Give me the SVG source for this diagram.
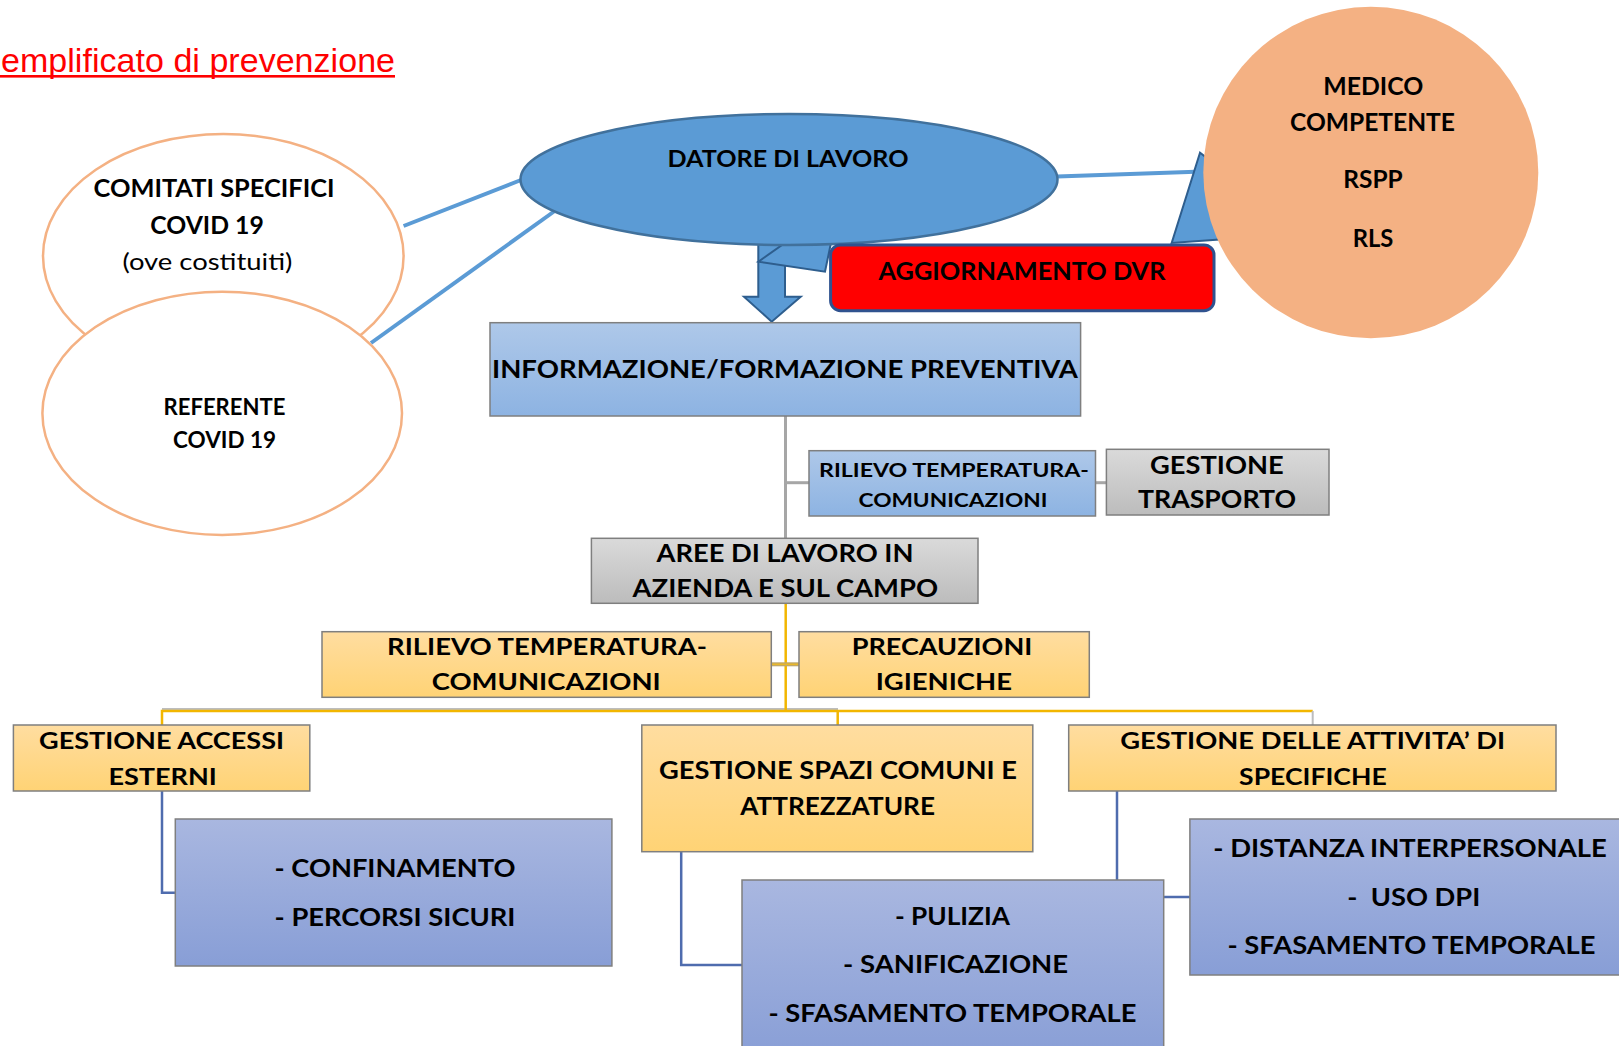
<svg xmlns="http://www.w3.org/2000/svg" width="1619" height="1046" viewBox="0 0 1619 1046">
<defs>
<linearGradient id="gBlueL" x1="0" y1="0" x2="0" y2="1"><stop offset="0" stop-color="#AEC8E9"/><stop offset="1" stop-color="#8DB3E2"/></linearGradient>
<linearGradient id="gGray" x1="0" y1="0" x2="0" y2="1"><stop offset="0" stop-color="#DADADA"/><stop offset="1" stop-color="#BCBCBC"/></linearGradient>
<linearGradient id="gYel" x1="0" y1="0" x2="0" y2="1"><stop offset="0" stop-color="#FFDDA0"/><stop offset="1" stop-color="#FFD375"/></linearGradient>
<linearGradient id="gPer" x1="0" y1="0" x2="0" y2="1"><stop offset="0" stop-color="#A9B7E0"/><stop offset="1" stop-color="#889ED6"/></linearGradient>
</defs>
<style>
text{font-family:"Lato","Carlito","Liberation Sans",sans-serif;font-weight:700;fill:#000;text-anchor:middle}
.reg{font-weight:400}
.box{stroke:#7F7F7F;stroke-width:1.5}
.bl{fill:url(#gBlueL)}
.gr{fill:url(#gGray)}
.ye{fill:url(#gYel)}
.pe{fill:url(#gPer)}
.cb{fill:none;stroke:#5B9BD5;stroke-width:4}
.cg{fill:none;stroke:#A6A6A6;stroke-width:3}
.cy{fill:none;stroke:#F2B600;stroke-width:2.5}
.cs{fill:none;stroke:#BDBDBD;stroke-width:2}
.cp{fill:none;stroke:#4F6CAE;stroke-width:2.5}
.ell{fill:#fff;stroke:#F4B183;stroke-width:2.5}
.dk{fill:#5B9BD5;stroke:#2E5E8E;stroke-width:2}
</style>

<g id="title">
<text x="1" y="72" textLength="394" style="font-family:'Liberation Sans',Arial,sans-serif;font-weight:400;font-size:34px;fill:#FF0000;text-anchor:start">emplificato di prevenzione</text>
<rect x="0" y="75" width="395" height="2.6" fill="#FF0000"/>
</g>

<g id="connectors">
<line class="cb" x1="403.6" y1="226" x2="521" y2="180"/>
<line class="cb" x1="371" y1="343" x2="554" y2="211.5"/>
<line class="cb" x1="1057" y1="176.5" x2="1203" y2="171.5"/>
<polyline class="cg" points="785.5,416 785.5,538.3"/>
<polyline class="cg" points="785.5,482.7 809,482.7"/>
<polyline class="cg" points="1095.5,482.7 1106.4,482.7"/>
<polyline class="cs" points="162,709 838,709"/>
<polyline class="cy" points="785.7,603.3 785.7,711"/>
<polyline class="cy" points="162,725 162,711 1312.7,711"/>
<polyline class="cy" points="837.7,711 837.7,725"/>
<polyline class="cs" points="1312.7,711 1312.7,725"/>
<line x1="771" y1="664.3" x2="799" y2="664.3" stroke="#BFA76A" stroke-width="4"/>
<line x1="771" y1="664.3" x2="799" y2="664.3" stroke="#E9B82A" stroke-width="1.5"/>
<polyline class="cp" points="162,791 162,892.7 175,892.7"/>
<polyline class="cp" points="681.2,851.7 681.2,965 742,965"/>
<polyline class="cp" points="1117,791 1117,897 1190,897"/>
</g>

<g id="comitati">
<ellipse class="ell" cx="223.3" cy="256" rx="180.3" ry="122"/>
<text x="214" y="197.3" font-size="24" textLength="241" lengthAdjust="spacingAndGlyphs">COMITATI SPECIFICI</text>
<text x="207" y="234" font-size="24" textLength="113.5" lengthAdjust="spacingAndGlyphs">COVID 19</text>
<text class="reg" x="207.4" y="270" font-size="24" textLength="170" lengthAdjust="spacingAndGlyphs">(ove costituiti)</text>
</g>

<g id="referente">
<ellipse class="ell" cx="222.2" cy="413.3" rx="179.8" ry="121.6"/>
<text x="224.5" y="415" font-size="22" textLength="122" lengthAdjust="spacingAndGlyphs">REFERENTE</text>
<text x="224.5" y="448.3" font-size="22" textLength="103" lengthAdjust="spacingAndGlyphs">COVID 19</text>
</g>

<g id="arrow">
<polygon class="dk" points="758.3,238 785,238 785,296.7 800.7,296.7 771.7,321.7 744,296.7 758.3,296.7"/>
<polygon class="dk" points="758.3,261.7 792,238 832,238 825,271.7"/>
</g>

<g id="wedge">
<polygon class="dk" points="1200,152.7 1171.7,243 1240,238 1216,165"/>
</g>

<g id="datore">
<ellipse class="dk" cx="789" cy="179.5" rx="268.5" ry="65.5" style="stroke:#41719C;stroke-width:2.5"/>
<text x="788" y="166.7" font-size="23.3" textLength="241" lengthAdjust="spacingAndGlyphs">DATORE DI LAVORO</text>
</g>

<g id="medico">
<ellipse cx="1370.8" cy="172.5" rx="167.5" ry="165.8" fill="#F4B183"/>
<text x="1373.3" y="95" font-size="25.5" textLength="100" lengthAdjust="spacingAndGlyphs">MEDICO</text>
<text x="1372.5" y="130.7" font-size="25.5" textLength="165" lengthAdjust="spacingAndGlyphs">COMPETENTE</text>
<text x="1373" y="188.3" font-size="25.5" textLength="59.4" lengthAdjust="spacingAndGlyphs">RSPP</text>
<text x="1373" y="247.3" font-size="25.5" textLength="40.6" lengthAdjust="spacingAndGlyphs">RLS</text>
</g>

<g id="dvr">
<rect x="830.6" y="245" width="383.4" height="65.7" rx="10" fill="#FF0000" stroke="#2F528F" stroke-width="3"/>
<text x="1022" y="280" font-size="25.5" textLength="287" lengthAdjust="spacingAndGlyphs">AGGIORNAMENTO DVR</text>
</g>

<g id="informazione">
<rect class="box bl" x="490" y="322.7" width="590.6" height="93.3"/>
<text x="785" y="378.3" font-size="25.5" textLength="586" lengthAdjust="spacingAndGlyphs">INFORMAZIONE/FORMAZIONE PREVENTIVA</text>
</g>

<g id="rilievo1">
<rect class="box bl" x="809" y="450.7" width="286.5" height="65.3"/>
<text x="954" y="477.3" font-size="19.5" textLength="270" lengthAdjust="spacingAndGlyphs">RILIEVO TEMPERATURA-</text>
<text x="953" y="506.7" font-size="19.5" textLength="189" lengthAdjust="spacingAndGlyphs">COMUNICAZIONI</text>
</g>

<g id="trasporto">
<rect class="box gr" x="1106.4" y="449.3" width="222.6" height="65.7"/>
<text x="1216.8" y="474" font-size="24" textLength="133.6" lengthAdjust="spacingAndGlyphs">GESTIONE</text>
<text x="1217" y="508.3" font-size="24" textLength="158" lengthAdjust="spacingAndGlyphs">TRASPORTO</text>
</g>

<g id="aree">
<rect class="box gr" x="591.4" y="538.3" width="386.6" height="65"/>
<text x="785" y="562.3" font-size="24" textLength="257" lengthAdjust="spacingAndGlyphs">AREE DI LAVORO IN</text>
<text x="785.3" y="597.3" font-size="24" textLength="305.5" lengthAdjust="spacingAndGlyphs">AZIENDA E SUL CAMPO</text>
</g>

<g id="rilievo2">
<rect class="box ye" x="322" y="631.7" width="449.3" height="65.6"/>
<text x="547" y="655" font-size="22.5" textLength="320" lengthAdjust="spacingAndGlyphs">RILIEVO TEMPERATURA-</text>
<text x="546.2" y="690" font-size="22.5" textLength="229" lengthAdjust="spacingAndGlyphs">COMUNICAZIONI</text>
</g>

<g id="precauzioni">
<rect class="box ye" x="799" y="631.7" width="290.3" height="65.6"/>
<text x="942" y="655" font-size="22.5" textLength="180.7" lengthAdjust="spacingAndGlyphs">PRECAUZIONI</text>
<text x="943.8" y="690" font-size="22.5" textLength="136.3" lengthAdjust="spacingAndGlyphs">IGIENICHE</text>
</g>

<g id="accessi">
<rect class="box ye" x="13.4" y="725" width="296.4" height="66"/>
<text x="161.5" y="749.3" font-size="23" textLength="245" lengthAdjust="spacingAndGlyphs">GESTIONE ACCESSI</text>
<text x="162.6" y="785" font-size="23" textLength="108.4" lengthAdjust="spacingAndGlyphs">ESTERNI</text>
</g>

<g id="spazi">
<rect class="box ye" x="641.8" y="725" width="391" height="126.7"/>
<text x="838" y="779.3" font-size="24" textLength="358" lengthAdjust="spacingAndGlyphs">GESTIONE SPAZI COMUNI E</text>
<text x="837.6" y="815" font-size="24" textLength="194.8" lengthAdjust="spacingAndGlyphs">ATTREZZATURE</text>
</g>

<g id="attivita">
<rect class="box ye" x="1068.7" y="725" width="487.3" height="66"/>
<text x="1312.7" y="749.3" font-size="23" textLength="385" lengthAdjust="spacingAndGlyphs">GESTIONE DELLE ATTIVITA’ DI</text>
<text x="1312.9" y="785" font-size="23" textLength="147.6" lengthAdjust="spacingAndGlyphs">SPECIFICHE</text>
</g>

<g id="confinamento">
<rect class="box pe" x="175.3" y="819" width="436.6" height="147"/>
<text x="395" y="876.7" font-size="25.5" textLength="240.8" lengthAdjust="spacingAndGlyphs">- CONFINAMENTO</text>
<text x="395" y="926" font-size="25.5" textLength="240.8" lengthAdjust="spacingAndGlyphs">- PERCORSI SICURI</text>
</g>

<g id="pulizia">
<rect class="box pe" x="742" y="880" width="421.7" height="180"/>
<text x="952.4" y="925" font-size="25.5" textLength="115" lengthAdjust="spacingAndGlyphs">- PULIZIA</text>
<text x="955.6" y="973.3" font-size="25.5" textLength="225" lengthAdjust="spacingAndGlyphs">- SANIFICAZIONE</text>
<text x="952.4" y="1021.7" font-size="25.5" textLength="368" lengthAdjust="spacingAndGlyphs">- SFASAMENTO TEMPORALE</text>
</g>

<g id="distanza">
<rect class="box pe" x="1189.9" y="819" width="440" height="156"/>
<text x="1410" y="856.7" font-size="25.5" textLength="393.5" lengthAdjust="spacingAndGlyphs">- DISTANZA INTERPERSONALE</text>
<text x="1413.8" y="906" font-size="25.5" textLength="133" lengthAdjust="spacingAndGlyphs" xml:space="preserve">-  USO DPI</text>
<text x="1411.5" y="954" font-size="25.5" textLength="368" lengthAdjust="spacingAndGlyphs">- SFASAMENTO TEMPORALE</text>
</g>
</svg>
